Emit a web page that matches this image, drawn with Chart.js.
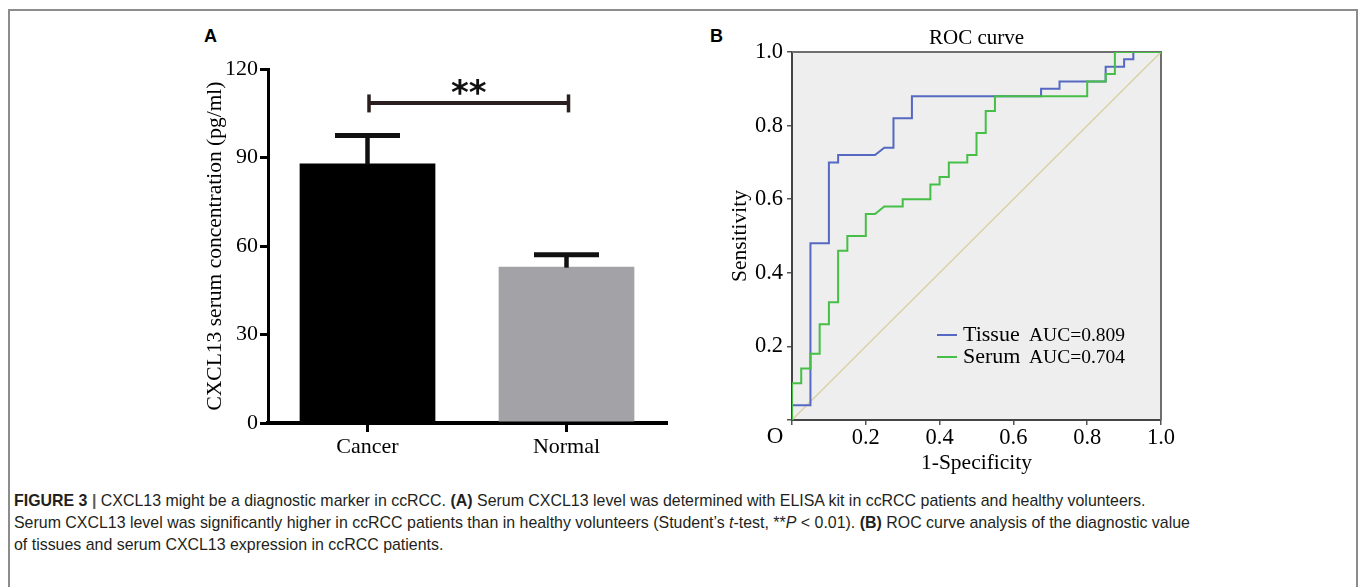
<!DOCTYPE html>
<html><head><meta charset="utf-8">
<script src="https://cdn.jsdelivr.net/npm/chart.js@4.4.0/dist/chart.umd.min.js"></script>
<style>
html,body{margin:0;padding:0;background:#fff;width:1359px;height:587px;overflow:hidden;position:relative;}
#frame{position:absolute;left:8px;top:9px;width:1350px;height:620px;border:2px solid #8c8c8c;border-bottom:none;box-sizing:border-box;}
.plabel{position:absolute;font-family:"Liberation Sans",Arial,sans-serif;font-weight:bold;font-size:18px;color:#000;line-height:18px;}
#caption{position:absolute;left:14px;top:490px;font-family:"Liberation Sans Narrow","Liberation Sans",Arial,sans-serif;font-size:15px;line-height:22px;color:#231f20;white-space:nowrap;}
#caption .ln{display:block;}
#caption .ln span{display:inline-block;}
#wa{position:absolute;left:180px;top:20px;}
#wb{position:absolute;left:700px;top:20px;}
</style>
</head><body>
<div id="frame"></div>
<div class="plabel" style="left:204px;top:27px;">A</div>
<div class="plabel" style="left:710px;top:27px;">B</div>
<canvas id="wa" width="500" height="450"></canvas>
<canvas id="wb" width="480" height="460"></canvas>
<div id="caption">
<div class="ln"><span id="l1"><b>FIGURE 3</b> <b style="color:#5a5a5a">|</b> CXCL13 might be a diagnostic marker in ccRCC. <b>(A)</b> Serum CXCL13 level was determined with ELISA kit in ccRCC patients and healthy volunteers.</span></div>
<div class="ln"><span id="l2">Serum CXCL13 level was significantly higher in ccRCC patients than in healthy volunteers (Student’s <i>t</i>-test, **<i>P</i> &lt; 0.01). <b>(B)</b> ROC curve analysis of the diagnostic value</span></div>
<div class="ln"><span id="l3">of tissues and serum CXCL13 expression in ccRCC patients.</span></div>
</div>
<script>
// ---------- Panel A data ----------
const categories = ['Cancer', 'Normal'];
const meanValues = [88, 53];
const semValues = [9.5, 4];
const yTicksA = [0, 30, 60, 90, 120];
const yTitleA = 'CXCL13 serum concentration (pg/ml)';
const sigLevel = 108.5;
const sigLabel = '**';
const barColors = ['#000000', '#a3a2a7'];

// ---------- Panel B data ----------
const tissueFPR = [0, 0, 0.05, 0.05, 0.1, 0.1, 0.125, 0.125, 0.225, 0.25, 0.275, 0.275, 0.325, 0.325, 0.675, 0.675, 0.725, 0.725, 0.85, 0.85, 0.9, 0.9, 0.925, 0.925, 1];
const tissueTPR = [0, 0.04, 0.04, 0.48, 0.48, 0.70, 0.70, 0.72, 0.72, 0.74, 0.74, 0.82, 0.82, 0.88, 0.88, 0.90, 0.90, 0.92, 0.92, 0.96, 0.96, 0.98, 0.98, 1.0, 1.0];
const serumFPR = [0, 0, 0.025, 0.025, 0.05, 0.05, 0.075, 0.075, 0.1, 0.1, 0.125, 0.125, 0.15, 0.15, 0.2, 0.2, 0.225, 0.25, 0.3, 0.3, 0.375, 0.375, 0.4, 0.4, 0.425, 0.425, 0.475, 0.475, 0.5, 0.5, 0.525, 0.525, 0.55, 0.55, 0.8, 0.8, 0.85, 0.85, 0.875, 0.875, 1];
const serumTPR = [0, 0.10, 0.10, 0.14, 0.14, 0.18, 0.18, 0.26, 0.26, 0.32, 0.32, 0.46, 0.46, 0.50, 0.50, 0.56, 0.56, 0.58, 0.58, 0.60, 0.60, 0.64, 0.64, 0.66, 0.66, 0.70, 0.70, 0.72, 0.72, 0.78, 0.78, 0.84, 0.84, 0.88, 0.88, 0.92, 0.92, 0.94, 0.94, 1.0, 1.0];
const diagX = [0, 1];
const diagY = [0, 1];
const seriesNames = ['Tissue', 'Serum'];
const aucLabels = ['AUC=0.809', 'AUC=0.704'];
const rocTicks = [0, 0.2, 0.4, 0.6, 0.8, 1.0];
const rocTitle = 'ROC curve';
const xTitleB = '1-Specificity';
const yTitleB = 'Sensitivity';
const originLabel = 'O';

const SERIF = '"Liberation Serif", "Times New Roman", serif';

// ---------- Panel A ----------
const annotA = {
  id: 'annotA',
  afterDatasetsDraw(chart) {
    const { ctx, scales: { x, y } } = chart;
    ctx.save();
    ctx.strokeStyle = '#111';
    ctx.lineCap = 'butt';
    categories.forEach((c, i) => {
      const px = x.getPixelForValue(i);
      const yTop = y.getPixelForValue(meanValues[i] + semValues[i]);
      const yMean = y.getPixelForValue(meanValues[i]);
      ctx.lineWidth = 4.5;
      ctx.beginPath(); ctx.moveTo(px, yMean + 1); ctx.lineTo(px, yTop); ctx.stroke();
      ctx.lineWidth = 5;
      ctx.beginPath(); ctx.moveTo(px - 32.5, yTop); ctx.lineTo(px + 32.5, yTop); ctx.stroke();
    });
    const x0 = x.getPixelForValue(0) + 1.5, x1 = x.getPixelForValue(1) + 2, yb = y.getPixelForValue(sigLevel);
    ctx.strokeStyle = '#2b1f1f';
    ctx.lineWidth = 4;
    ctx.beginPath(); ctx.moveTo(x0, yb); ctx.lineTo(x1, yb); ctx.stroke();
    ctx.lineWidth = 3.5;
    [x0, x1].forEach(px => { ctx.beginPath(); ctx.moveTo(px, yb - 8.5); ctx.lineTo(px, yb + 9.5); ctx.stroke(); });
    ctx.fillStyle = '#111';
    ctx.font = 'bold 34px "DejaVu Sans", sans-serif';
    ctx.textAlign = 'center';
    ctx.textBaseline = 'alphabetic';
    const m = ctx.measureText(sigLabel);
    const targetMid = yb - 15.5;
    const base = targetMid + (m.actualBoundingBoxAscent - m.actualBoundingBoxDescent) / 2;
    ctx.fillText(sigLabel, (x0 + x1) / 2, base);
    ctx.restore();
  }
};

new Chart(document.getElementById('wa'), {
  type: 'bar',
  data: {
    labels: categories,
    datasets: [{
      data: meanValues,
      backgroundColor: barColors,
      borderWidth: 0,
      barPercentage: 0.682,
      categoryPercentage: 1.0
    }]
  },
  options: {
    responsive: false,
    animation: false,
    devicePixelRatio: 1,
    layout: { padding: { left: 0, right: 14, top: 49, bottom: 0 } },
    plugins: { legend: { display: false }, tooltip: { enabled: false }, title: { display: false } },
    scales: {
      x: {
        z: 1,
        grid: { display: true, drawOnChartArea: false, drawTicks: true, tickLength: 9, color: '#000', lineWidth: 3, offset: false },
        border: { display: true, color: '#000', width: 4 },
        ticks: { color: '#000', font: { family: SERIF, size: 22 }, padding: 2 },
        afterFit: s => { s.height = 47; }
      },
      y: {
        z: 1,
        min: 0, max: 120,
        afterBuildTicks: s => { s.ticks = yTicksA.map(v => ({ value: v })); },
        grid: { display: true, drawOnChartArea: false, drawTicks: true, tickLength: 8, color: '#000', lineWidth: 3 },
        border: { display: true, color: '#000', width: 3 },
        ticks: { color: '#000', font: { family: SERIF, size: 22 }, padding: 2 },
        title: { display: true, text: yTitleA, color: '#000', font: { family: SERIF, size: 21.5 }, padding: { top: 22, bottom: 0 } },
        afterFit: s => { s.width = 88; }
      }
    }
  },
  plugins: [annotA]
});

// ---------- Panel B ----------
const toPts = (xs, ys) => xs.map((v, i) => ({ x: v, y: ys[i] }));

const decorB = {
  id: 'decorB',
  beforeDraw(chart) {
    const { ctx, chartArea: ca } = chart;
    ctx.save();
    ctx.fillStyle = '#eeeeee';
    ctx.fillRect(ca.left, ca.top, ca.right - ca.left, ca.bottom - ca.top);
    ctx.restore();
  },
  beforeDatasetsDraw(chart) {
    const { ctx, chartArea: ca } = chart;
    ctx.save();
    ctx.strokeStyle = '#6e6e6e';
    ctx.lineWidth = 2;
    ctx.beginPath();
    ctx.moveTo(ca.left, ca.top); ctx.lineTo(ca.right, ca.top); ctx.lineTo(ca.right, ca.bottom);
    ctx.stroke();
    ctx.restore();
  },
  afterDraw(chart) {
    const { ctx, chartArea: ca, scales: { x, y } } = chart;
    ctx.save();
    ctx.fillStyle = '#000';
    ctx.font = '21px ' + SERIF;
    ctx.textAlign = 'center';
    ctx.textBaseline = 'middle';
    ctx.fillText(rocTitle, (ca.left + ca.right) / 2, ca.top - 14);
    ctx.font = '23px ' + SERIF;
    ctx.fillText(originLabel, x.getPixelForValue(0) - 17, y.getPixelForValue(0) + 17);
    const lx = ca.left + 145, ly = ca.top + 283;
    [0, 1].forEach(i => {
      const ds = chart.data.datasets[i];
      const yy = ly + i * 22;
      ctx.strokeStyle = ds.borderColor;
      ctx.lineWidth = 2;
      ctx.beginPath(); ctx.moveTo(lx, yy); ctx.lineTo(lx + 20, yy); ctx.stroke();
      ctx.textAlign = 'left';
      ctx.font = '22px ' + SERIF;
      ctx.fillText(seriesNames[i], lx + 26, yy);
      ctx.font = '19.5px ' + SERIF;
      ctx.fillText(aucLabels[i], lx + 92, yy + 1);
    });
    ctx.restore();
  }
};

new Chart(document.getElementById('wb'), {
  type: 'scatter',
  data: {
    datasets: [
      { label: seriesNames[0], data: toPts(tissueFPR, tissueTPR), showLine: true, borderColor: '#5568c2', borderWidth: 2, pointRadius: 0, tension: 0, fill: false, order: 2 },
      { label: seriesNames[1], data: toPts(serumFPR, serumTPR), showLine: true, borderColor: '#46bf46', borderWidth: 2, pointRadius: 0, tension: 0, fill: false, order: 1 },
      { label: 'ref', data: toPts(diagX, diagY), showLine: true, borderColor: '#d8d0a0', borderWidth: 1.3, pointRadius: 0, tension: 0, fill: false, order: 3 }
    ]
  },
  options: {
    responsive: false,
    animation: false,
    devicePixelRatio: 1,
    layout: { padding: { left: 0, right: 19, top: 32, bottom: 0 } },
    plugins: { legend: { display: false }, tooltip: { enabled: false }, title: { display: false } },
    scales: {
      x: {
        type: 'linear', min: 0, max: 1,
        afterBuildTicks: s => { s.ticks = rocTicks.map(v => ({ value: v })); },
        grid: { display: true, drawOnChartArea: false, drawTicks: true, tickLength: 5, color: '#555', lineWidth: 1.5 },
        border: { display: true, color: '#444', width: 2 },
        ticks: { color: '#000', font: { family: SERIF, size: 22.5 }, padding: 0, callback: v => v === 0 ? '' : v.toFixed(1) },
        title: { display: true, text: xTitleB, color: '#000', font: { family: SERIF, size: 21.5 }, padding: { top: 0, bottom: 4 } },
        afterFit: s => { s.height = 60; }
      },
      y: {
        type: 'linear', min: 0, max: 1,
        afterBuildTicks: s => { s.ticks = rocTicks.map(v => ({ value: v })); },
        grid: { display: true, drawOnChartArea: false, drawTicks: true, tickLength: 5, color: '#555', lineWidth: 1.5 },
        border: { display: true, color: '#444', width: 2 },
        ticks: { color: '#000', font: { family: SERIF, size: 22.5 }, padding: 4, callback: v => v === 0 ? '' : v.toFixed(1) },
        title: { display: true, text: yTitleB, color: '#000', font: { family: SERIF, size: 21.5 }, padding: { top: 27, bottom: 0 } },
        afterFit: s => { s.width = 92; }
      }
    }
  },
  plugins: [decorB]
});

// ---------- caption width fit ----------
(function fitCaption() {
  const cap = document.getElementById('caption');
  const l2 = document.getElementById('l2');
  const target = 1176;
  const w = l2.getBoundingClientRect().width;
  if (w > 0) {
    const fs = Math.min(17, 15 * target / w);
    cap.style.fontSize = fs.toFixed(2) + 'px';
    const w2 = l2.getBoundingClientRect().width;
    const chars = l2.textContent.length;
    if (w2 < target) cap.style.letterSpacing = ((target - w2) / chars).toFixed(3) + 'px';
  }
})();
</script>
</body></html>
